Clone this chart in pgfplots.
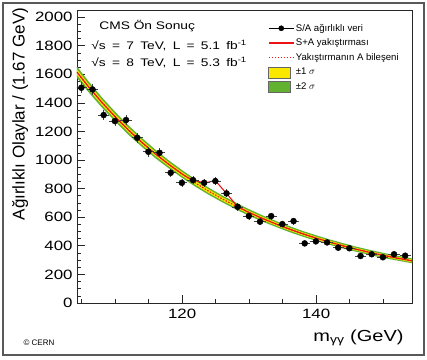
\documentclass[border=0pt]{standalone}
\usepackage{fontspec}
\setmainfont{Liberation Sans}
\usepackage{pgfplots}
\usepackage{pgfplotstable}
\pgfplotsset{compat=1.18}
\definecolor{bandyellow}{RGB}{250,232,0}
\definecolor{bandgreen}{RGB}{98,178,48}
\definecolor{fitred}{RGB}{235,20,20}

\pgfplotstableread{
x y ex ey
104.95 1506 0.83 39
106.62 1494 0.83 39
108.28 1315 0.83 36
109.95 1273 0.83 36
111.62 1280 0.83 36
113.28 1156 0.83 34
114.95 1058 0.83 33
116.62 1051 0.83 32
118.28 911 0.83 30
119.95 841 0.83 29
121.62 860 0.83 29
123.28 841 0.83 29
124.95 853 0.83 29
126.62 767 0.83 28
128.28 673 0.83 26
129.95 608 0.83 25
131.62 569 0.83 24
133.28 608 0.83 25
134.95 552 0.83 23
136.62 573 0.83 24
138.28 417 0.83 20
139.95 431 0.83 21
141.62 424 0.83 21
143.28 387 0.83 20
144.95 383 0.83 20
146.62 329 0.83 18
148.28 341 0.83 18
149.95 320 0.83 18
151.62 341 0.83 18
153.28 331 0.83 18
}\datatable

\begin{document}
\begin{tikzpicture}
\path[use as bounding box] (-77pt,-56pt) rectangle (350pt,303pt);
\begin{axis}[
  scale only axis, width=335pt, height=293pt,
  xmin=104.3, xmax=154.3, ymin=0, ymax=2050,
  axis line style={black!85, line width=0.8pt},
  xtick={120,140}, minor xtick={105,110,115,125,130,135,145,150},
  ytick={0,200,...,2000}, minor y tick num=3,
  tick pos=left, tick align=inside,
  major tick length=8pt, minor tick length=4pt,
  every tick/.style={black!85, line width=0.7pt},
  /pgf/number format/1000 sep={},
  /pgf/number format/assume math mode=true,
  tick label style={font=\fontsize{13.5}{14}\selectfont, xscale=1.25},
  xticklabel style={yshift=-3pt},
  xlabel={m\textsubscript{γγ} (GeV)},
  ylabel={Ağırlıklı Olaylar / (1.67 GeV)},
  xlabel style={at={(axis description cs:0.988,-0.119)}, anchor=east, font=\fontsize{16}{18}\selectfont, xscale=1.25},
  ylabel style={at={(axis description cs:-0.170,0.645)}, anchor=center, font=\fontsize{17}{18}\selectfont},
  legend cell align=left,
  legend style={at={(0.57,0.958)}, anchor=north west, draw=none, fill=none,
    font=\fontsize{9.6}{10}\selectfont, row sep=3.2pt, inner sep=0pt, nodes={inner sep=1.5pt}},
]
% +-2 sigma band
\addplot[draw=none, fill=bandgreen, forget plot] coordinates {
(104.3,1655)(106,1552)(108,1440)(110,1337)(112,1242)(114,1154)(116,1073)(118,998)(120,929)(122,865)(124,806)(126,752)(128,703)(130,656)(132,613)(134,574)(136,538)(138,504)(140,474)(142,445)(144,419)(146,394)(148,372)(150,351)(152,332)(154.3,312)
(154.3,278)(152,298)(150,315)(148,336)(146,358)(144,381)(142,407)(140,434)(138,464)(136,496)(134,532)(132,569)(130,610)(128,655)(126,704)(124,756)(122,813)(120,875)(118,942)(116,1013)(114,1092)(112,1176)(110,1269)(108,1368)(106,1476)(104.3,1575)
};
% +-1 sigma band
\addplot[draw=none, fill=bandyellow, forget plot] coordinates {
(104.3,1635)(106,1533)(108,1422)(110,1320)(112,1225)(114,1139)(116,1058)(118,984)(120,916)(122,852)(124,794)(126,740)(128,691)(130,644)(132,602)(134,564)(136,527)(138,494)(140,464)(142,436)(144,409)(146,385)(148,363)(150,342)(152,324)(154.3,304)
(154.3,286)(152,306)(150,324)(148,345)(146,367)(144,391)(142,416)(140,444)(138,474)(136,507)(134,542)(132,580)(130,622)(128,667)(126,716)(124,768)(122,826)(120,888)(118,956)(116,1028)(114,1107)(112,1193)(110,1286)(108,1386)(106,1495)(104.3,1595)
};
% background component (dotted)
\addplot[fitred, dash pattern=on 1.5pt off 1.5pt, line width=1.1pt, forget plot] coordinates {
(104.3,1615)(106,1514)(108,1404)(110,1303)(112,1209)(114,1123)(116,1043)(118,970)(120,902)(122,839)(124,781)(126,728)(128,679)(130,633)(132,591)(134,553)(136,517)(138,484)(140,454)(142,426)(144,400)(146,376)(148,354)(150,333)(152,315)(154.3,295)
};
% S+B fit
\addplot[fitred, line width=1.1pt, forget plot] coordinates {
(104.3,1615)(106,1514)(108,1404)(110,1303)(112,1209)(114,1123)(116,1043)(118,970)(120,902)(120.6,884)(121.6,860)(123.3,840)(124.95,856)(126.6,767)(128.3,673)(130,633)(132,591)(134,553)(136,517)(138,484)(140,454)(142,426)(144,400)(146,376)(148,354)(150,333)(152,315)(154.3,295)
};
% data
\addplot[only marks, mark=*, mark size=3pt, black, forget plot,
  error bars/.cd, x dir=both, x explicit, y dir=both, y explicit,
  error bar style={black!75, line width=0.6pt}, error mark=none]
  table[x=x, y=y, x error=ex, y error=ey] {\datatable};

\addlegendimage{legend image code/.code={\draw[black, line width=0.8pt] (0pt,0pt) -- (25pt,0pt); \fill[black] (12.5pt,0pt) circle (2.6pt);}}
\addlegendentry{S/A ağırlıklı veri}
\addlegendimage{legend image code/.code={\draw[fitred, line width=1.1pt] (0pt,0pt) -- (25pt,0pt);}}
\addlegendentry{S+A yakıştırması}
\addlegendimage{legend image code/.code={\draw[fitred, dash pattern=on 1.5pt off 1.5pt, line width=1.2pt] (0pt,0pt) -- (25pt,0pt);}}
\addlegendentry{Yakıştırmanın A bileşeni}
\addlegendimage{legend image code/.code={\filldraw[fill=bandyellow, draw=black!60, line width=0.6pt] (0pt,-5.5pt) rectangle (22pt,5.5pt); \path (25pt,0pt);}}
\addlegendentry{±1 $\sigma$}
\addlegendimage{legend image code/.code={\filldraw[fill=bandgreen, draw=black!60, line width=0.6pt] (0pt,-5.5pt) rectangle (22pt,5.5pt); \path (25pt,0pt);}}
\addlegendentry{±2 $\sigma$}
\end{axis}
\node[anchor=west, font=\fontsize{11}{12}\selectfont, xscale=1.25] at (18pt,277pt) {CMS Ön Sonuç};
\node[anchor=west, font=\fontsize{11}{12}\selectfont, xscale=1.25] at (10pt,257pt) {\spaceskip=5pt √s = 7 TeV, L = 5.1 fb\textsuperscript{-1}};
\node[anchor=west, font=\fontsize{11}{12}\selectfont, xscale=1.25] at (10pt,240pt) {\spaceskip=5pt √s = 8 TeV, L = 5.3 fb\textsuperscript{-1}};
\node[anchor=west, font=\fontsize{8}{9}\selectfont] at (-57pt,-40pt) {© CERN};
\draw[line width=1.5pt, black!65] (-74pt,-52pt) rectangle (347pt,300pt);
\end{tikzpicture}
\end{document}
